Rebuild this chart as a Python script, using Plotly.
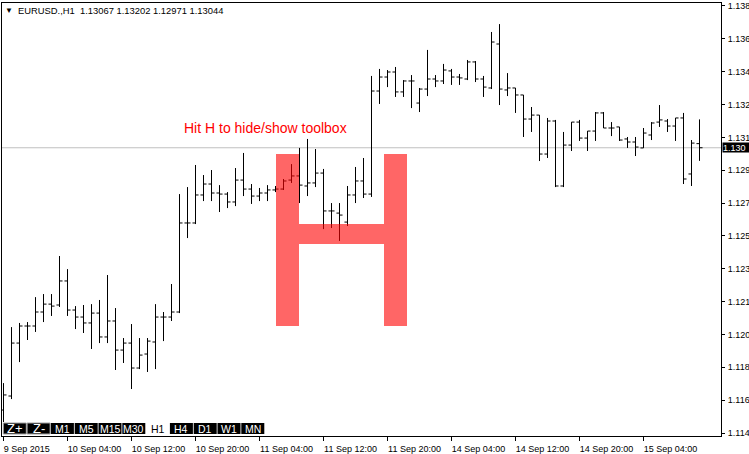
import plotly.graph_objects as go

# ---------------- data (EURUSD H1) ----------------
bar_index = list(range(88))
opens = [1.11583, 1.11661, 1.11956, 1.12051, 1.12051, 1.12129, 1.12173, 1.12168, 1.12302, 1.12140,
         1.12101, 1.12068, 1.12123, 1.11990, 1.12079, 1.11917, 1.11956, 1.11817, 1.11895, 1.11962,
         1.12101, 1.12101, 1.12129, 1.12625, 1.12625, 1.12781, 1.12842, 1.12792, 1.12786, 1.12742,
         1.12864, 1.12814, 1.12775, 1.12792, 1.12809, 1.12814, 1.12864, 1.12887, 1.12831, 1.12848,
         1.12903, 1.12692, 1.12680, 1.12630, 1.12781, 1.12859, 1.12786, 1.13360, 1.13438, 1.13466,
         1.13355, 1.13416, 1.13293, 1.13371, 1.13427, 1.13416, 1.13472, 1.13438, 1.13427, 1.13522,
         1.13427, 1.13377, 1.13622, 1.13366, 1.13377, 1.13338, 1.13204, 1.13226, 1.13009, 1.13193,
         1.12831, 1.13059, 1.13187, 1.13098, 1.13137, 1.13238, 1.13154, 1.13160, 1.13093, 1.13076,
         1.13043, 1.13115, 1.13187, 1.13193, 1.13165, 1.13210, 1.12898, 1.13067]
highs = [1.11733, 1.12045, 1.12068, 1.12073, 1.12212, 1.12229, 1.12229, 1.12441, 1.12368, 1.12162,
         1.12168, 1.12173, 1.12196, 1.12335, 1.12151, 1.11984, 1.12062, 1.11984, 1.11984, 1.12173,
         1.12129, 1.12285, 1.12786, 1.12825, 1.12948, 1.12892, 1.12920, 1.12836, 1.12797, 1.12931,
         1.13015, 1.12842, 1.12820, 1.12836, 1.12831, 1.12870, 1.12953, 1.13043, 1.13093, 1.13037,
         1.12926, 1.12736, 1.12736, 1.12831, 1.12937, 1.12987, 1.13444, 1.13483, 1.13477, 1.13494,
         1.13421, 1.13449, 1.13377, 1.13589, 1.13449, 1.13511, 1.13483, 1.13455, 1.13533, 1.13527,
         1.13444, 1.13689, 1.13733, 1.13460, 1.13377, 1.13338, 1.13271, 1.13226, 1.13210, 1.13199,
         1.13132, 1.13187, 1.13199, 1.13137, 1.13243, 1.13243, 1.13187, 1.13160, 1.13104, 1.13104,
         1.13154, 1.13187, 1.13282, 1.13204, 1.13210, 1.13238, 1.13087, 1.13202]
lows = [1.11516, 1.11644, 1.11850, 1.11973, 1.12018, 1.12073, 1.12107, 1.12157, 1.12107, 1.12034,
        1.12012, 1.11923, 1.11956, 1.11956, 1.11806, 1.11845, 1.11700, 1.11811, 1.11795, 1.11811,
        1.11967, 1.12079, 1.12123, 1.12541, 1.12619, 1.12747, 1.12747, 1.12686, 1.12708, 1.12719,
        1.12775, 1.12731, 1.12747, 1.12747, 1.12797, 1.12809, 1.12848, 1.12736, 1.12775, 1.12825,
        1.12591, 1.12597, 1.12525, 1.12608, 1.12736, 1.12764, 1.12770, 1.13288, 1.13382, 1.13327,
        1.13327, 1.13265, 1.13243, 1.13332, 1.13382, 1.13399, 1.13394, 1.13394, 1.13421, 1.13410,
        1.13327, 1.13371, 1.13282, 1.13332, 1.13238, 1.13104, 1.13132, 1.12970, 1.12987, 1.12825,
        1.12825, 1.13026, 1.13082, 1.13026, 1.13082, 1.13154, 1.13109, 1.13082, 1.13043, 1.12998,
        1.13043, 1.13087, 1.13160, 1.13132, 1.13082, 1.12842, 1.12831, 1.12971]
closes = [1.11667, 1.11956, 1.12051, 1.12051, 1.12129, 1.12173, 1.12162, 1.12302, 1.12140, 1.12101,
          1.12068, 1.12123, 1.11990, 1.12079, 1.11917, 1.11956, 1.11817, 1.11889, 1.11967, 1.12101,
          1.12101, 1.12129, 1.12625, 1.12625, 1.12781, 1.12842, 1.12792, 1.12786, 1.12742, 1.12864,
          1.12814, 1.12775, 1.12792, 1.12809, 1.12814, 1.12859, 1.12887, 1.12836, 1.12848, 1.12903,
          1.12692, 1.12692, 1.12669, 1.12781, 1.12859, 1.12786, 1.13360, 1.13438, 1.13466, 1.13355,
          1.13416, 1.13416, 1.13371, 1.13427, 1.13416, 1.13477, 1.13438, 1.13433, 1.13522, 1.13427,
          1.13382, 1.13633, 1.13371, 1.13377, 1.13338, 1.13204, 1.13226, 1.13009, 1.13193, 1.12831,
          1.13059, 1.13187, 1.13098, 1.13137, 1.13238, 1.13154, 1.13154, 1.13087, 1.13076, 1.13048,
          1.13126, 1.13182, 1.13199, 1.13165, 1.13210, 1.12870, 1.13070, 1.13044]

xtick_bars = [0, 8, 16, 24, 32, 40, 48, 56, 64, 72, 80]
xtick_labels = ["9 Sep 2015\u00a0\u00a0\u00a0", "10 Sep 04:00", "10 Sep 12:00", "10 Sep 20:00",
                "11 Sep 04:00", "11 Sep 12:00", "11 Sep 20:00", "14 Sep 04:00",
                "14 Sep 12:00", "14 Sep 20:00", "15 Sep 04:00"]
ytick_values = [1.11455, 1.11638, 1.11821, 1.12004, 1.12187, 1.12370, 1.12553,
                1.12736, 1.12919, 1.13102, 1.13285, 1.13468, 1.13651, 1.13834]
ytick_labels = ["1.114", "1.116", "1.118", "1.120", "1.121", "1.123", "1.125",
                "1.127", "1.129", "1.131", "1.132", "1.134", "1.136", "1.138"]
toolbar_labels = ["Z+", "Z-", "M1", "M5", "M15", "M30", "H1", "H4", "D1", "W1", "MN"]
selected_tf = "H1"
symbol = "EURUSD.,H1"
last_ohlc = [opens[-1], highs[-1], lows[-1], closes[-1]]

# ---------------- layout geometry ----------------
W, H = 749, 454
L_PX, R_PX, T_PX, B_PX = 2, 721, 3, 436
FONT = "Liberation Sans, Arial, sans-serif"


def px_x(px):
    return (px - L_PX) / (R_PX - L_PX)


def px_y(py):
    return (B_PX - py) / (B_PX - T_PX)


fig = go.Figure()
fig.add_trace(go.Ohlc(
    x=bar_index, open=opens, high=highs, low=lows, close=closes,
    increasing=dict(line=dict(color="black", width=1)),
    decreasing=dict(line=dict(color="black", width=1)),
    tickwidth=0.38, hoverinfo="skip", showlegend=False,
))

shapes = []
# current price line
shapes.append(dict(type="line", xref="paper", x0=0, x1=1, yref="y",
                   y0=closes[-1], y1=closes[-1], line=dict(color="#C0C0C0", width=1),
                   layer="below"))

# toolbar
annotations = []
for i, lab in enumerate(toolbar_labels):
    x0 = 3.3 + 23.8 * i
    x1 = x0 + 23
    big = lab in ("Z+", "Z-")
    if lab != selected_tf:
        shapes.append(dict(type="rect", xref="paper", yref="paper",
                           x0=px_x(x0), x1=px_x(x1), y0=px_y(434), y1=px_y(423),
                           fillcolor="black",
                           line=dict(color="#A0A0A0", width=1) if big else dict(width=0),
                           layer="above"))
    annotations.append(dict(xref="paper", yref="paper", x=px_x((x0 + x1) / 2), y=px_y(428.5),
                            text=lab, showarrow=False, xanchor="center", yanchor="middle",
                            font=dict(family=FONT, size=13 if big else 10.5,
                                      color="black" if lab == selected_tf else "white")))

# big translucent "H" toolbox hint
hx = [276, 299, 384, 407]
hy = [154, 224, 244, 326]
path = (f"M {px_x(hx[0])},{px_y(hy[0])} L {px_x(hx[1])},{px_y(hy[0])} L {px_x(hx[1])},{px_y(hy[1])} "
        f"L {px_x(hx[2])},{px_y(hy[1])} L {px_x(hx[2])},{px_y(hy[0])} L {px_x(hx[3])},{px_y(hy[0])} "
        f"L {px_x(hx[3])},{px_y(hy[3])} L {px_x(hx[2])},{px_y(hy[3])} L {px_x(hx[2])},{px_y(hy[2])} "
        f"L {px_x(hx[1])},{px_y(hy[2])} L {px_x(hx[1])},{px_y(hy[3])} L {px_x(hx[0])},{px_y(hy[3])} Z")
shapes.append(dict(type="path", xref="paper", yref="paper", path=path,
                   fillcolor="rgba(255,0,0,0.6)", line=dict(width=0), layer="above"))

annotations.append(dict(xref="paper", yref="paper", x=px_x(183), y=px_y(128),
                        text="Hit H to hide/show toolbox", showarrow=False,
                        xanchor="left", yanchor="middle", borderpad=0,
                        font=dict(family=FONT, size=14, color="#FF0000")))

# header
annotations.append(dict(xref="paper", yref="paper", x=px_x(4), y=px_y(11),
                        text="\u25BC", showarrow=False, xanchor="left", yanchor="middle",
                        borderpad=0, font=dict(family=FONT, size=8, color="black")))
header = symbol + "\u00a0\u00a0" + " ".join(f"{v:.5f}" for v in last_ohlc)
annotations.append(dict(xref="paper", yref="paper", x=px_x(17), y=px_y(11),
                        text=header, showarrow=False, xanchor="left", yanchor="middle",
                        borderpad=0, font=dict(family=FONT, size=9.4, color="black")))

# current price label on the axis
annotations.append(dict(xref="paper", yref="y", x=1, y=closes[-1], xshift=1,
                        text=f"{closes[-1]:.3f}", showarrow=False, xanchor="left",
                        yanchor="middle", align="left", width=27, height=9, borderpad=0,
                        bgcolor="black", font=dict(family=FONT, size=9, color="white")))

x_min = -0.1875
x_max = x_min + (R_PX - L_PX) / 8.0
y_top = 1.11455 + (433 - T_PX) / 17951.0
y_bot = 1.11455 + (433 - B_PX) / 17951.0

fig.update_layout(
    width=W, height=H, autosize=False,
    margin=dict(l=L_PX, r=W - R_PX, t=T_PX, b=H - B_PX, pad=0, autoexpand=False),
    paper_bgcolor="white", plot_bgcolor="white",
    shapes=shapes, annotations=annotations, showlegend=False,
    xaxis=dict(range=[x_min, x_max], rangeslider=dict(visible=False), automargin=False,
               tickmode="array", tickvals=xtick_bars, ticktext=xtick_labels, tickangle=0,
               ticks="outside", ticklen=4, tickcolor="black", tickwidth=1,
               ticklabelshift=27, ticklabelstandoff=0,
               showgrid=False, zeroline=False, showline=True, linecolor="black",
               linewidth=1, mirror=True,
               tickfont=dict(family=FONT, size=9, color="black")),
    yaxis=dict(range=[y_bot, y_top], side="right", automargin=False,
               tickmode="array", tickvals=ytick_values, ticktext=ytick_labels,
               ticks="outside", ticklen=3, tickcolor="black", tickwidth=1,
               ticklabelstandoff=1,
               showgrid=False, zeroline=False, showline=True, linecolor="black",
               linewidth=1, mirror=True,
               tickfont=dict(family=FONT, size=9, color="black")),
)

fig.write_html("out.html", config={"displayModeBar": False},
               post_script="document.body.style.margin='0px';")
